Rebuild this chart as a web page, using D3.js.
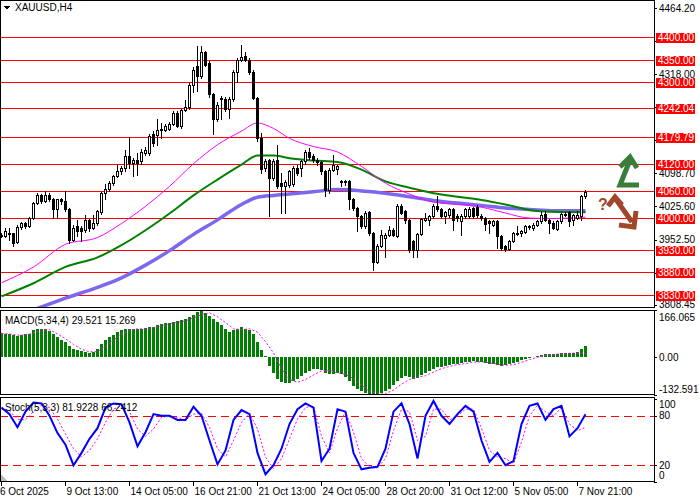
<!DOCTYPE html>
<html><head><meta charset="utf-8">
<script src="https://cdn.jsdelivr.net/npm/d3@7"></script>
<style>
body{margin:0;background:#fff}
svg{display:block}
text{font-family:"Liberation Sans",Arial,sans-serif;font-size:10px}
</style>
</head><body><div id="chart"></div>
<script>
// candles, H4 bars
const openP = [3962,3961,3968,3966,3947,3980,3988,3983,4000,4033,4050,4037,4052,4042,4019,4041,4037,4019,3952,3982,3978,3974,3996,3978,3990,4013,4055,4064,4077,4092,4103,4111,4138,4122,4129,4125,4144,4144,4186,4184,4197,4195,4197,4208,4232,4203,4239,4245,4295,4337,4313,4366,4343,4273,4219,4265,4264,4241,4262,4322,4350,4359,4350,4322,4265,4177,4111,4128,4088,4129,4077,4071,4072,4076,4111,4111,4125,4145,4138,4129,4123,4103,4063,4107,4108,4080,4081,4081,4041,4022,4004,3982,4013,3967,3904,3938,3956,3963,3974,3961,4026,4015,3996,3949,3929,3965,3996,3996,4004,4026,4019,4004,4007,4019,4004,3993,4004,4004,4022,4024,4005,4000,3993,3985,3993,3960,3938,3932,3949,3965,3967,3970,3982,3978,3985,3993,4009,3995,3990,3976,3993,4007,4013,3996,4000,4005,4048];
const highP = [3966,3978,3978,3968,3984,3992,3991,4003,4036,4055,4054,4059,4056,4044,4043,4044,4059,4022,3985,3995,3983,4007,3999,4006,4018,4058,4076,4081,4095,4118,4116,4150,4180,4133,4144,4152,4156,4186,4192,4219,4210,4208,4212,4237,4236,4242,4260,4298,4333,4381,4381,4370,4346,4276,4256,4270,4267,4268,4326,4354,4383,4366,4353,4326,4268,4188,4130,4131,4130,4162,4100,4083,4106,4114,4118,4128,4150,4155,4142,4132,4126,4106,4110,4140,4118,4085,4083,4083,4045,4025,4007,4015,4016,3970,3942,3974,3966,3982,3977,4030,4030,4018,3999,3952,3968,4000,4011,4007,4030,4048,4022,4016,4022,4022,4008,4008,4022,4024,4025,4028,4008,4003,3996,3996,3996,3963,3941,3952,3970,3982,3974,3985,3985,3988,3996,4015,4015,3998,3993,3996,4012,4013,4016,4010,4015,4052,4063];
const lowP = [3958,3958,3952,3939,3944,3975,3978,3980,3998,4030,4033,4035,4038,4000,4000,4030,4015,3945,3949,3960,3949,3970,3972,3975,3985,4010,4042,4060,4073,4090,4098,4105,4111,4092,4096,4120,4140,4140,4160,4162,4177,4192,4194,4205,4202,4200,4236,4241,4278,4280,4310,4335,4268,4186,4215,4219,4236,4221,4258,4300,4347,4346,4318,4262,4170,4100,4105,4004,4085,4066,4011,4011,4068,4070,4095,4092,4120,4130,4124,4118,4098,4048,4055,4104,4098,4070,4072,4019,4018,3971,3978,3978,3963,3886,3900,3935,3915,3960,3960,3958,4008,3989,3926,3915,3915,3962,3993,3985,4000,4015,4000,3990,4003,3974,3993,3963,4000,4000,4000,4003,3996,3974,3967,3982,3934,3930,3928,3929,3946,3962,3960,3967,3976,3974,3982,3990,3993,3967,3975,3973,3990,4004,3983,3985,3997,3995,4045];
const closeP = [3961,3972,3966,3945,3980,3989,3983,4000,4033,4050,4037,4052,4042,4019,4041,4037,4019,3952,3978,3971,3971,3996,3978,3989,4015,4055,4064,4077,4092,4103,4111,4136,4122,4129,4122,4147,4150,4182,4166,4195,4194,4203,4208,4232,4204,4239,4245,4295,4328,4313,4366,4339,4273,4219,4250,4262,4241,4264,4322,4350,4356,4350,4322,4265,4177,4108,4125,4088,4127,4070,4070,4079,4103,4111,4100,4125,4145,4135,4128,4123,4103,4063,4107,4118,4114,4082,4079,4041,4022,4004,3982,4011,3967,3904,3939,3963,3963,3974,3963,4026,4011,3996,3929,3929,3965,3998,4000,4004,4026,4019,4004,4013,4019,3996,4000,4004,4019,4021,4004,4007,4000,3987,3988,3993,3960,3934,3932,3949,3967,3968,3971,3982,3980,3985,3993,4007,3996,3990,3978,3993,4009,4010,3993,4007,4007,4049,4057];

// moving averages, read at these bar numbers
const maIdx  = [0,8,16,24,30,36,42,48,54,60,64,68,72,78,84,90,96,102,108,114,120,126,132,138,146];
const maFast = [3857,3892,3942,3957,3988,4026,4070,4120,4162,4192,4210,4198,4176,4158,4146,4114,4077,4053,4035,4030,4024,4011,4000,3999,4002];
const maMid  = [3827,3856,3892,3913,3940,3973,4010,4050,4085,4118,4138,4138,4132,4127,4124,4107,4081,4067,4055,4047,4040,4030,4018,4014,4013];
const maSlow = [3772,3797,3823,3847,3868,3896,3928,3964,3996,4030,4046,4050,4053,4058,4063,4060,4055,4047,4039,4033,4028,4022,4019,4016,4016];

const levels = [4400,4350,4300,4242.04,4179.79,4120,4060,4000,3930,3880,3830];
const priceTicks = [4464.20,4391.10,4318.00,4244.90,4171.80,4098.70,4025.60,3952.50,3879.40,3808.45];

// MACD(5,34,4)
const macdHist = [85,82,80,78,75,78,80,82,95,100,100,98,92,80,70,60,52,40,30,25,22,18,16,18,28,45,60,72,78,88,95,100,100,100,98,100,103,105,108,115,118,120,122,125,128,130,135,142,150,160,166,155,145,135,125,115,100,90,95,100,105,100,95,80,55,25,5,-30,-55,-75,-88,-92,-90,-85,-75,-65,-55,-48,-42,-40,-45,-55,-60,-58,-55,-60,-70,-85,-100,-112,-120,-125,-130,-132,-130,-125,-118,-110,-98,-85,-72,-65,-70,-75,-72,-62,-55,-48,-40,-35,-33,-30,-28,-25,-22,-20,-18,-15,-14,-15,-18,-20,-22,-25,-28,-30,-28,-25,-20,-15,-10,-5,-2,2,5,8,10,10,12,12,14,15,15,16,18,30,38];
// every second bar
const macdSig = [84,82,78,78,85,96,97,82,65,45,28,19,20,38,60,82,95,100,100,104,110,118,123,128,138,150,156,142,122,100,97,100,88,55,15,-40,-78,-88,-78,-62,-48,-46,-55,-60,-75,-98,-120,-130,-128,-115,-95,-78,-70,-65,-52,-40,-32,-26,-22,-17,-16,-19,-24,-28,-26,-18,-8,0,6,10,12,14,15,15];
const macdTicks = [166.065, 0, -132.591];

// Stochastic(5,3,3), every second bar
const stochK = [90,82,66,85,96,95,80,59,45,20,35,52,65,90,95,94,72,43,60,82,80,80,75,75,91,80,50,21,38,75,87,82,35,9,20,40,70,88,95,90,25,40,88,85,35,15,17,18,40,85,95,70,28,80,98,80,70,82,92,85,50,24,35,20,25,70,92,95,75,88,92,55,65,82];
const stochD = [88,86,76,75,85,93,90,76,58,40,30,38,52,72,88,93,85,64,55,64,78,80,78,75,82,83,66,40,30,50,72,83,64,30,16,28,52,76,90,92,55,35,65,85,60,28,18,17,28,62,88,85,50,55,88,88,75,80,88,88,65,38,30,28,22,48,80,93,85,80,90,70,62,66];
const stochTicks = [100, 80, 20, 0];

const timeLabels = ["6 Oct 2025","9 Oct 13:00","14 Oct 05:00","16 Oct 21:00","21 Oct 13:00","24 Oct 05:00","28 Oct 20:00","31 Oct 12:00","5 Nov 05:00","7 Nov 21:00"];
const timeIdx = [0,16,32,48,64,80,96,112,128,144];

const W = 700, H = 500, plotR = 654;
const N = closeP.length;

const svg = d3.select("#chart").append("svg")
  .attr("width", W).attr("height", H)
  .attr("shape-rendering", "crispEdges");

const x = d3.scaleLinear().domain([0, N - 1]).range([1.5, 1.5 + 4 * (N - 1)]);
const yP = d3.scaleLinear().domain([3801.3, 4481.7]).range([308, 0]);
const yM = d3.scaleLinear().domain([-132.591, 166.065]).range([395, 310]);
const yS = d3.scaleLinear().domain([0, 100]).range([481.7, 399.3]);

const defs = svg.append("defs");
function clip(id, y0, y1) {
  defs.append("clipPath").attr("id", id).append("rect")
    .attr("x", 0).attr("y", y0).attr("width", plotR).attr("height", y1 - y0);
}
clip("cMain", 0, 308); clip("cMacd", 310, 395); clip("cSto", 397, 482);

const gMain = svg.append("g").attr("clip-path", "url(#cMain)");
const gMacd = svg.append("g").attr("clip-path", "url(#cMacd)");
const gSto = svg.append("g").attr("clip-path", "url(#cSto)");

// level lines
gMain.selectAll("line.lvl").data(levels).enter().append("line")
  .attr("x1", 0).attr("x2", plotR)
  .attr("y1", d => Math.round(yP(d)) + 0.5).attr("y2", d => Math.round(yP(d)) + 0.5)
  .attr("stroke", "#ff0000");

// moving averages
const maLine = d3.line().x(d => x(d[0])).y(d => yP(d[1])).curve(d3.curveMonotoneX);
gMain.append("path").datum(d3.zip(maIdx, maSlow)).attr("d", maLine)
  .attr("fill", "none").attr("stroke", "#7b68ee").attr("stroke-width", 3.5).attr("shape-rendering", "auto");
gMain.append("path").datum(d3.zip(maIdx, maMid)).attr("d", maLine)
  .attr("fill", "none").attr("stroke", "#008000").attr("stroke-width", 2).attr("shape-rendering", "auto");
gMain.append("path").datum(d3.zip(maIdx, maFast)).attr("d", maLine)
  .attr("fill", "none").attr("stroke", "#ff00ff").attr("stroke-width", 1).attr("shape-rendering", "auto");

// candles
const bars = d3.range(N);
gMain.selectAll("line.wick").data(bars).enter().append("line")
  .attr("x1", i => x(i)).attr("x2", i => x(i))
  .attr("y1", i => Math.round(yP(highP[i]))).attr("y2", i => Math.round(yP(lowP[i])) + 1)
  .attr("stroke", "#000");
gMain.selectAll("rect.body").data(bars).enter().append("rect")
  .attr("x", i => x(i) - 1)
  .attr("y", i => Math.round(yP(Math.max(openP[i], closeP[i]))) + 0.5)
  .attr("width", 2)
  .attr("height", i => Math.max(1, Math.round(yP(Math.min(openP[i], closeP[i]))) - Math.round(yP(Math.max(openP[i], closeP[i])))))
  .attr("fill", i => closeP[i] >= openP[i] ? "#fff" : "#000")
  .attr("stroke", "#000");

// MACD histogram + signal
gMacd.selectAll("rect").data(bars).enter().append("rect")
  .attr("x", i => x(i) - 1.5).attr("width", 3)
  .attr("y", i => Math.round(Math.min(yM(0), yM(macdHist[i]))))
  .attr("height", i => Math.abs(Math.round(yM(macdHist[i])) - Math.round(yM(0))))
  .attr("fill", "#008000");
const halfLine = (sc) => d3.line().x((d, k) => x(k * 2)).y(d => sc(d));
gMacd.append("path").datum(macdSig).attr("d", halfLine(yM))
  .attr("fill", "none").attr("stroke", "#ff00ff").attr("stroke-dasharray", "2,2").attr("shape-rendering", "auto");

// Stochastic
gSto.selectAll("line.lvl").data([80, 20]).enter().append("line")
  .attr("x1", 0).attr("x2", plotR)
  .attr("y1", d => Math.round(yS(d)) + 0.5).attr("y2", d => Math.round(yS(d)) + 0.5)
  .attr("stroke", "#ff0000").attr("stroke-dasharray", "8,5");
gSto.append("path").datum(stochD).attr("d", halfLine(yS))
  .attr("fill", "none").attr("stroke", "#ff00ff").attr("stroke-dasharray", "2,2").attr("shape-rendering", "auto");
gSto.append("path").datum(stochK).attr("d", halfLine(yS))
  .attr("fill", "none").attr("stroke", "#0000ff").attr("stroke-width", 2).attr("shape-rendering", "auto");

// panel frames
[[0, 308], [310, 395], [397, 482]].forEach(p => {
  svg.append("rect").attr("x", 0.5).attr("y", p[0] + 0.5)
    .attr("width", plotR - 0.5).attr("height", p[1] - p[0] - 1)
    .attr("fill", "none").attr("stroke", "#000");
});

// right axes; labels under a red level box are left out (only the tick stays)
function rightAxis(ticks, sc, fmt, minY, maxY, hide) {
  const g = svg.append("g");
  g.selectAll("line").data(ticks).enter().append("line")
    .attr("x1", plotR).attr("x2", plotR + 3)
    .attr("y1", d => Math.round(sc(d)) + 0.5).attr("y2", d => Math.round(sc(d)) + 0.5)
    .attr("stroke", "#000");
  g.selectAll("text").data(ticks.filter(d => !hide || !hide(d))).enter().append("text")
    .attr("x", plotR + 5)
    .attr("y", d => Math.min(maxY, Math.max(minY, sc(d))) + 3.5)
    .text(fmt);
}
rightAxis(priceTicks, yP, d => d.toFixed(2), 8, 307,
  d => levels.some(l => Math.abs(yP(l) - yP(d)) < 8));
rightAxis(macdTicks, yM, d => d === 0 ? "0.00" : d.toFixed(3), 317, 389);
rightAxis(stochTicks, yS, d => d, 404, 475);

// red price labels
const lab = svg.append("g").selectAll("g").data(levels).enter().append("g");
lab.append("rect").attr("x", 656).attr("width", 39)
  .attr("y", d => Math.round(yP(d)) - 4.5).attr("height", 10).attr("fill", "#ff0000");
lab.append("text").attr("x", 658).attr("y", d => Math.round(yP(d)) + 4)
  .attr("fill", "#fff").text(d => d.toFixed(2));

// time axis
svg.append("g").selectAll("line").data(timeIdx).enter().append("line")
  .attr("x1", i => x(i)).attr("x2", i => x(i)).attr("y1", 482).attr("y2", 486).attr("stroke", "#000");
svg.append("g").selectAll("text").data(timeIdx).enter().append("text")
  .attr("x", (i, k) => k === 0 ? 0 : x(i) + 1).attr("y", 495)
  .text((i, k) => timeLabels[k]);

// titles
svg.append("path").attr("d", "M4,6 L10,6 L7,10 Z").attr("fill", "#000");
svg.append("text").attr("x", 15).attr("y", 11).text("XAUUSD,H4");
svg.append("text").attr("x", 5).attr("y", 324).text("MACD(5,34,4) 29.521 15.269");
svg.append("text").attr("x", 5).attr("y", 411).text("Stoch(5,3,3) 81.9228 66.2412");
svg.append("path").attr("d", "M1,475 L1,481 L7,481 Z").attr("fill", "#bbb");

// scenario arrows
const sc = svg.append("g").attr("fill", "none").attr("stroke-width", 5)
  .attr("stroke-linejoin", "miter").attr("shape-rendering", "auto");
sc.append("path").attr("d", "M639,185 L620,185 L630,160 M620,167 L630,157 L637,168").attr("stroke", "#3a7d3a");
sc.append("path").attr("d", "M608,206 L615,197 L622,205 M615,198 L632,222 M619,225 L634,227 L636,211").attr("stroke", "#a0472a");
svg.append("text").attr("x", 598).attr("y", 210).attr("fill", "#a0472a")
  .style("font-size", "16px").style("font-weight", "bold").text("?");
</script>
</body></html>
